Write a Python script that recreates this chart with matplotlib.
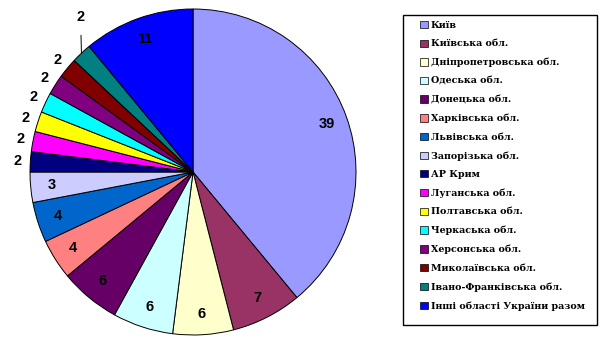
import numpy as np
import matplotlib.pyplot as plt
from matplotlib.patches import Rectangle

regions = [
    "Київ",
    "Київська обл.",
    "Дніпропетровська обл.",
    "Одеська обл.",
    "Донецька обл.",
    "Харківська обл.",
    "Львівська обл.",
    "Запорізька обл.",
    "АР Крим",
    "Луганська обл.",
    "Полтавська обл.",
    "Черкаська обл.",
    "Херсонська обл.",
    "Миколаївська обл.",
    "Івано-Франківська обл.",
    "Інші області України разом",
]
values = [39, 7, 6, 6, 6, 4, 4, 3, 2, 2, 2, 2, 2, 2, 2, 11]
colors = [
    "#9999FF", "#993366", "#FFFFCC", "#CCFFFF", "#660066", "#FF8080",
    "#0066CC", "#CCCCFF", "#000080", "#FF00FF", "#FFFF00", "#00FFFF",
    "#800080", "#800000", "#008080", "#0000FF",
]

W, H = 603, 341
fig = plt.figure(figsize=(W / 100, H / 100), dpi=100)
ax = fig.add_axes([0.0498, 0.0176, 0.5406, 0.956])

wedges, _ = ax.pie(values, colors=colors, startangle=90, counterclock=False,
                   wedgeprops=dict(edgecolor="black", linewidth=0.7))
ax.set_aspect("equal")
ax.set_xlim(-1, 1)
ax.set_ylim(-1, 1)

# value labels: big slices inside, small ones just outside the rim
for i, (w, v) in enumerate(zip(wedges, values)):
    ang = np.deg2rad((w.theta1 + w.theta2) / 2)
    if i == 14:
        x0, y0 = np.cos(ang), np.sin(ang)
        ax.annotate(str(v), xy=(x0, y0), xytext=(-0.69, 0.95),
                    ha="center", va="center", fontsize=10.5, fontweight="bold",
                    family="Liberation Sans",
                    arrowprops=dict(arrowstyle="-", color="black", lw=0.7,
                                    shrinkA=6, shrinkB=0))
        continue
    r = 1.08 if v == 2 else 0.87
    ax.text(r * np.cos(ang), r * np.sin(ang), str(v), ha="center", va="center",
            fontsize=10.5, fontweight="bold", family="Liberation Sans")

# legend box drawn by hand so the padding matches
fig.patches.append(Rectangle((403 / W, 1 - 325 / H), 194 / W, 310 / H,
                             transform=fig.transFigure, fill=False,
                             edgecolor="black", linewidth=1.0))

leg = fig.legend(wedges, regions, loc="upper left",
                 bbox_to_anchor=(420 / W, 1 - 21 / H),
                 prop=dict(family="DejaVu Serif", weight="bold", size=6.8),
                 frameon=False,
                 handlelength=0.8, handleheight=0.8, handletextpad=0.35,
                 labelspacing=1.0, borderpad=0, borderaxespad=0)
for h in leg.legend_handles:
    h.set_linewidth(0.5)

fig.savefig("out.png", dpi=100)
